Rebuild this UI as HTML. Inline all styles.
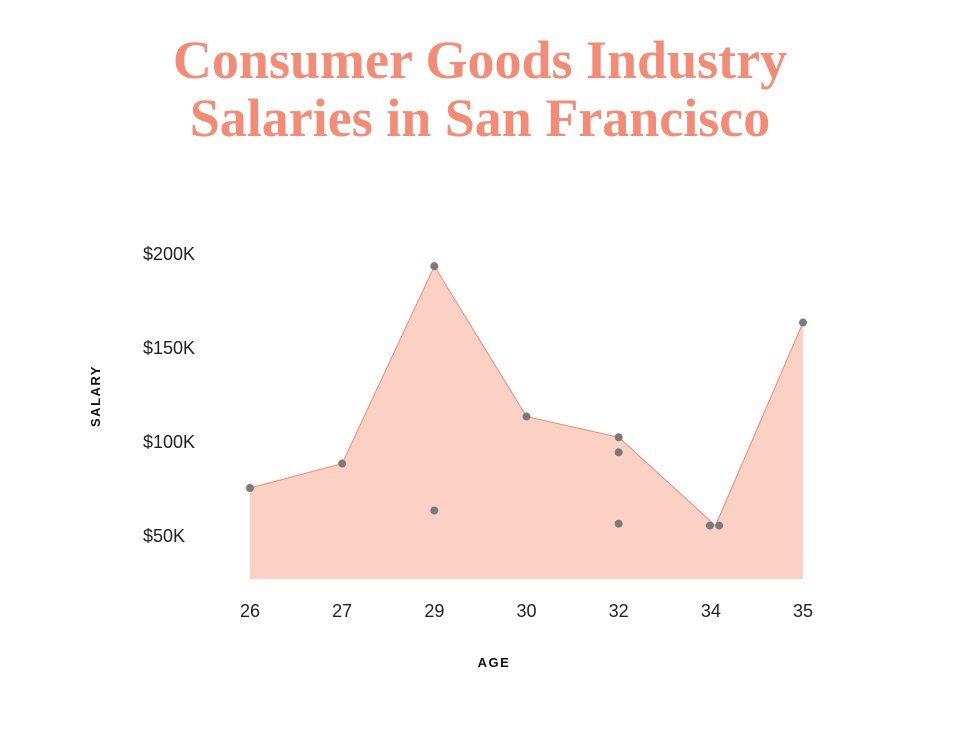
<!DOCTYPE html>
<html><head><meta charset="utf-8"><style>
html,body{margin:0;padding:0;background:#fff;width:960px;height:748px;overflow:hidden}
.title{position:absolute;left:0;width:960px;text-align:center;font-family:"Liberation Serif",serif;font-weight:bold;color:#f38c76;font-size:54px;line-height:58px}
svg{position:absolute;left:0;top:0}
</style></head><body>
<div class="title" style="top:31px">Consumer Goods Industry<br>Salaries in San Francisco</div>
<svg width="960" height="748">
<g id="area"></g><g id="dots"></g><g id="axes"></g>
<text x="100" y="396" transform="rotate(-90 100 396)" text-anchor="middle" font-family="Liberation Sans, sans-serif" font-weight="bold" font-size="13" letter-spacing="1.5" fill="#111">SALARY</text>
<text x="494" y="667" text-anchor="middle" font-family="Liberation Sans, sans-serif" font-weight="bold" font-size="13" letter-spacing="1.5" fill="#111">AGE</text>
</svg>
<script>
const categories = ["26","27","29","30","32","34","35"];
const lineAges = [0,1,2,3,4,5.05,6];
const lineValues = [75,88,193,113,102,55,163];
const pointAges = [0,1,2,2,3,4,4,4,4.99,5.09,6];
const pointValues = [75,88,193,63,113,102,94,56,55,55,163];
const yTicks = [50,100,150,200];
const yTickLabels = ["$50K","$100K","$150K","$200K"];
const ns="http://www.w3.org/2000/svg";
function x(i){return 250+i*(803-250)/6;}
function y(v){return 253+(200-v)*1.88;}
const baseV=26.6;
const areaG=document.getElementById('area'),dotsG=document.getElementById('dots'),axG=document.getElementById('axes');
let d="M"+x(lineAges[0])+","+y(baseV);
lineAges.forEach((a,i)=>{d+=" L"+x(a)+","+y(lineValues[i]);});
d+=" L"+x(lineAges[lineAges.length-1])+","+y(baseV)+" Z";
const area=document.createElementNS(ns,'path');
area.setAttribute('d',d);area.setAttribute('fill','#fbd1c6');


areaG.appendChild(area);
const line=document.createElementNS(ns,'polyline');
line.setAttribute('points',lineAges.map((a,i)=>x(a)+","+y(lineValues[i])).join(" "));
line.setAttribute('fill','none');line.setAttribute('stroke','#f28a73');line.setAttribute('stroke-width','1');


areaG.appendChild(line);
pointAges.forEach((a,i)=>{
 const c=document.createElementNS(ns,'circle');
 c.setAttribute('cx',x(a));c.setAttribute('cy',y(pointValues[i]));c.setAttribute('r','4');c.setAttribute('fill','#7a7a7a');
 
 
 dotsG.appendChild(c);
});
categories.forEach((c,i)=>{
 const t=document.createElementNS(ns,'text');
 t.setAttribute('x',x(i));t.setAttribute('y',617);t.setAttribute('text-anchor','middle');
 t.setAttribute('font-family','Liberation Sans, sans-serif');t.setAttribute('font-size','18');t.setAttribute('fill','#222');
 t.textContent=c;
 
 
 axG.appendChild(t);
});
yTicks.forEach((v,i)=>{
 const t=document.createElementNS(ns,'text');
 t.setAttribute('x',143);t.setAttribute('y',y(v)+7);
 t.setAttribute('font-family','Liberation Sans, sans-serif');t.setAttribute('font-size','18');t.setAttribute('fill','#222');
 t.textContent=yTickLabels[i];
 
 
 axG.appendChild(t);
});
</script>
</body></html>
